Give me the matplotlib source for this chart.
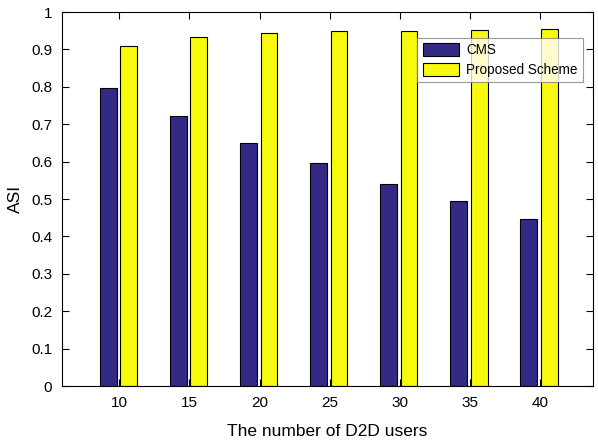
import matplotlib.pyplot as plt
import numpy as np

plt.rcParams['font.family'] = ['Liberation Sans', 'DejaVu Sans']

# D2D user counts and ASI results for each scheme
users = [10, 15, 20, 25, 30, 35, 40]
asi_cms = [0.798, 0.722, 0.651, 0.597, 0.539, 0.495, 0.446]
asi_proposed = [0.910, 0.932, 0.943, 0.948, 0.950, 0.952, 0.954]
series_names = ['CMS', 'Proposed Scheme']

fig = plt.figure(figsize=(5.98, 4.41), dpi=100)
ax = fig.add_axes([62 / 598, 1 - 386 / 441, (593 - 62) / 598, (386 - 12) / 441])

x = np.array(users, dtype=float)
width = 1.2
ax.bar(x - 0.8, asi_cms, width, color='#332a86', edgecolor='black',
       linewidth=0.8, label=series_names[0])
ax.bar(x + 0.67, asi_proposed, width, color='#f8fa0d', edgecolor='black',
       linewidth=0.8, label=series_names[1])

ax.set_xlim(5.9, 43.8)
ax.set_ylim(0, 1)
ax.set_xticks(users)
ax.set_yticks(np.round(np.arange(0, 1.01, 0.1), 1))
ax.set_yticklabels(['0'] + [f'{v:.1f}' for v in np.arange(0.1, 0.95, 0.1)] + ['1'])
ax.tick_params(direction='in', top=True, right=True, length=5, width=0.8,
               labelsize=11, pad=7)
for s in ax.spines.values():
    s.set_linewidth(0.8)

ax.set_xlabel('The number of D2D users', fontsize=12.5, labelpad=10)
ax.set_ylabel('ASI', fontsize=12.5, labelpad=6)

leg = ax.legend(loc='upper right', bbox_to_anchor=(0.981, 0.931),
                borderaxespad=0, fontsize=9.75, fancybox=False,
                handlelength=2.7, handleheight=1.1, handletextpad=0.5,
                labelspacing=0.4, borderpad=0.4)
leg.get_frame().set_edgecolor('#808080')
leg.get_frame().set_linewidth(0.8)

fig.savefig('out.png', dpi=100)
